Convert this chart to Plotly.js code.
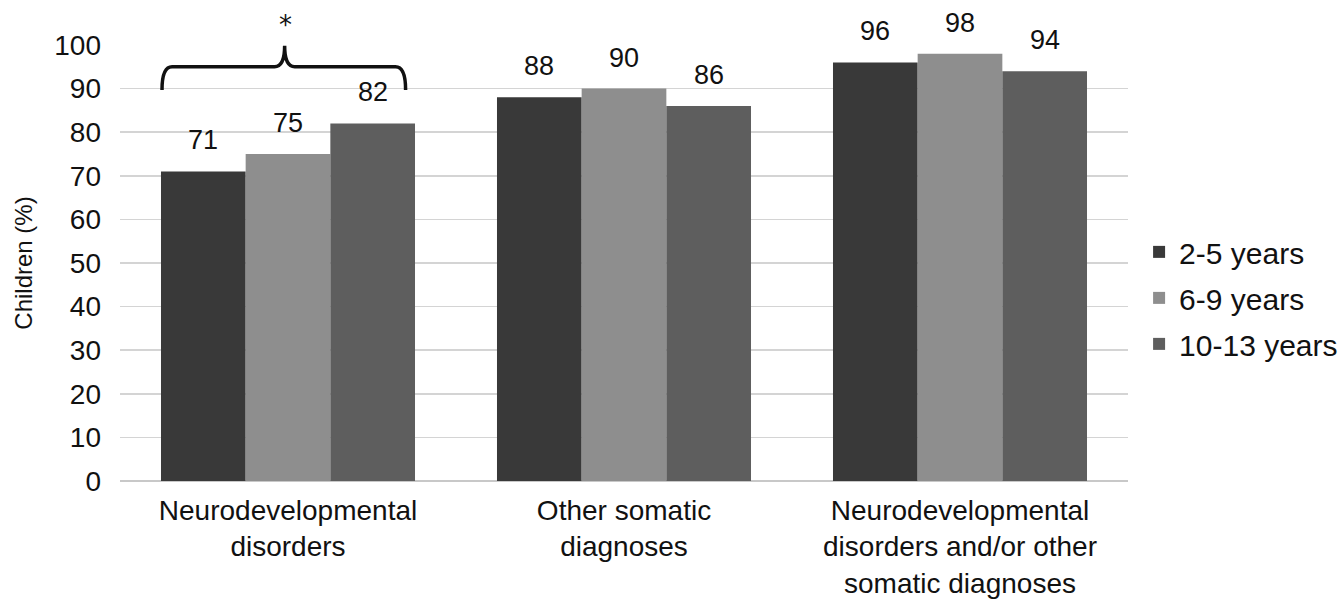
<!DOCTYPE html>
<html>
<head>
<meta charset="utf-8">
<script src="https://cdn.plot.ly/plotly-3.0.1.min.js"></script>
<style>html,body{margin:0;padding:0;background:#fff;}#chart{width:1343px;height:604px;}</style>
</head>
<body>
<div id="chart"></div>
<script>
const categories = [
  "Neurodevelopmental<br>disorders",
  "Other somatic<br>diagnoses",
  "Neurodevelopmental<br>disorders and/or other<br>somatic diagnoses"
];
const seriesNames = ["2-5 years", "6-9 years", "10-13 years"];
const age2to5 = [71, 88, 96];
const age6to9 = [75, 90, 98];
const age10to13 = [82, 86, 94];
const seriesValues = [age2to5, age6to9, age10to13];
const seriesColors = ["#393939", "#8e8e8e", "#5e5e5e"];
const yTicks = [0, 10, 20, 30, 40, 50, 60, 70, 80, 90, 100];

const FONT = "Liberation Sans, Arial, sans-serif";
const bargap = 0.244;
const plotW = 1343 - 120 - 215;
const barW = plotW / categories.length * (1 - bargap) / seriesNames.length;

const traces = seriesNames.map((name, j) => ({
  type: "bar",
  name: name,
  legendgroup: "g" + j,
  x: categories,
  y: seriesValues[j],
  marker: { color: seriesColors[j], line: { width: 0 } },
  hoverinfo: "skip"
}));

const annotations = [];
seriesValues.forEach((vals, j) => {
  vals.forEach((v, i) => {
    annotations.push({
      x: categories[i], y: v, xref: "x", yref: "y",
      text: String(v), showarrow: false,
      xanchor: "center", yanchor: "bottom",
      xshift: (j - 1) * barW, yshift: 14,
      font: { family: FONT, size: 27, color: "#111" }
    });
  });
});
annotations.push({
  x: 0, y: 100, xref: "x", yref: "y", text: "*", showarrow: false,
  xanchor: "center", yanchor: "bottom", xshift: -3, yshift: 3,
  font: { family: "DejaVu Sans, " + FONT, size: 26, color: "#111" }
});

const bx0 = -0.375, bx1 = 0.35, bxc = -0.01;
const bracketPath =
  `M ${bx0},89.7 Q ${bx0},95 ${bx0 + 0.03},95 L ${bxc - 0.03},95 Q ${bxc},95 ${bxc},99.8 ` +
  `Q ${bxc},95 ${bxc + 0.03},95 L ${bx1 - 0.03},95 Q ${bx1},95 ${bx1},89.7`;

const layout = {
  width: 1343, height: 604,
  paper_bgcolor: "#fff", plot_bgcolor: "#fff",
  margin: { l: 120, r: 215, t: 45, b: 123, autoexpand: false },
  barmode: "group", bargap: bargap, bargroupgap: 0,
  font: { family: FONT, color: "#111" },
  xaxis: {
    type: "category",
    tickfont: { family: FONT, size: 28, color: "#111" },
    showline: false, ticks: "", showgrid: false,
    ticklabelstandoff: 10
  },
  yaxis: {
    range: [0, 100], tickvals: yTicks, ticktext: yTicks.map(String),
    tickfont: { family: FONT, size: 28, color: "#111" },
    showgrid: true, gridcolor: "#d4d4d4", gridwidth: 1.5,
    zeroline: true, zerolinecolor: "#c8c8c8", zerolinewidth: 1.5,
    ticks: "", ticklabelstandoff: 18,
    title: { text: "Children (%)", font: { family: FONT, size: 24, color: "#111" }, standoff: 14 }
  },
  legend: {
    x: 1.011, xanchor: "left", y: 0.42, yanchor: "middle",
    font: { family: FONT, size: 30, color: "#111" },
    tracegroupgap: 4, traceorder: "grouped", itemwidth: 30
  },
  shapes: [{
    type: "path", xref: "x", yref: "y", path: bracketPath,
    line: { color: "#111", width: 3.5 }
  }],
  annotations: annotations
};

Plotly.newPlot("chart", traces, layout, { displayModeBar: false, staticPlot: true });
</script>
</body>
</html>
